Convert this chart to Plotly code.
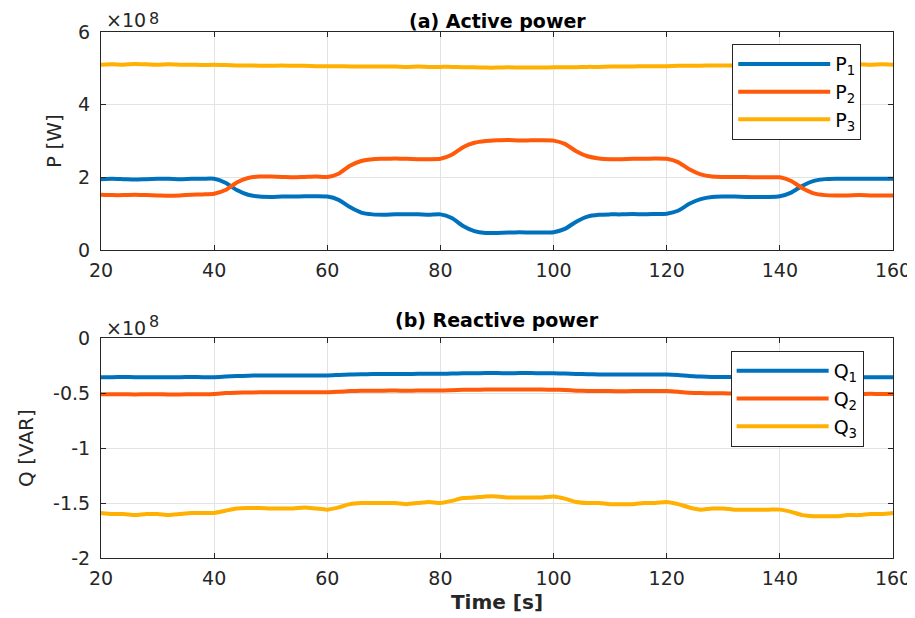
import plotly.graph_objects as go

# time axis [s]
t = list(range(20, 161, 2))

# Active power (x1e8 W)
P1 = [1.95,1.96,1.95,1.94,1.95,1.96,1.96,1.95,1.96,1.96,1.96,
      1.85,1.65,1.52,1.47,
      1.46,1.47,1.47,1.48,1.48,1.47,
      1.38,1.18,1.03,0.98,
      0.97,0.98,0.98,0.98,0.97,0.98,
      0.88,0.66,0.52,0.47,
      0.47,0.48,0.49,0.48,0.48,0.49,
      0.58,0.78,0.92,0.97,
      0.98,0.98,0.99,0.98,0.99,1.00,
      1.08,1.27,1.40,1.46,
      1.47,1.47,1.46,1.46,1.46,1.48,
      1.58,1.77,1.90,1.95,
      1.96,1.96,1.96,1.96,1.96,1.96]
P2 = [1.52,1.51,1.51,1.52,1.51,1.50,1.49,1.50,1.52,1.53,1.55,
      1.65,1.86,1.98,2.02,
      2.02,2.01,2.00,2.01,2.02,2.01,
      2.10,2.32,2.45,2.50,
      2.51,2.52,2.51,2.50,2.50,2.51,
      2.62,2.83,2.95,3.00,
      3.02,3.03,3.01,3.02,3.02,3.01,
      2.92,2.72,2.58,2.52,
      2.50,2.50,2.51,2.51,2.52,2.51,
      2.42,2.22,2.08,2.02,
      2.01,2.01,2.01,2.00,2.00,2.00,
      1.90,1.70,1.56,1.51,
      1.50,1.50,1.51,1.50,1.50,1.50]
P3 = [5.10,5.11,5.10,5.12,5.11,5.10,5.11,5.10,5.10,5.09,5.10,
      5.09,5.08,5.08,5.07,
      5.07,5.08,5.07,5.07,5.06,5.06,
      5.06,5.05,5.05,5.05,
      5.05,5.05,5.04,5.05,5.04,5.04,
      5.04,5.03,5.03,5.02,
      5.02,5.03,5.02,5.02,5.02,5.03,
      5.03,5.03,5.04,5.04,
      5.05,5.05,5.05,5.06,5.06,5.06,
      5.07,5.07,5.07,5.08,
      5.08,5.08,5.09,5.09,5.09,5.10,
      5.10,5.10,5.10,5.10,
      5.11,5.10,5.11,5.10,5.11,5.10]

# Reactive power (x1e8 VAR)
Q1 = [-0.355,-0.355,-0.354,-0.355,-0.355,-0.356,-0.355,-0.355,-0.354,-0.355,-0.355,
      -0.350,-0.345,-0.342,-0.340,
      -0.340,-0.341,-0.340,-0.340,-0.339,-0.340,
      -0.335,-0.330,-0.328,-0.327,
      -0.327,-0.326,-0.326,-0.325,-0.325,-0.325,
      -0.322,-0.320,-0.319,-0.318,
      -0.318,-0.319,-0.318,-0.318,-0.319,-0.320,
      -0.322,-0.326,-0.328,-0.330,
      -0.330,-0.330,-0.331,-0.330,-0.330,-0.330,
      -0.335,-0.345,-0.350,-0.353,
      -0.353,-0.353,-0.354,-0.353,-0.353,-0.354,
      -0.354,-0.355,-0.356,-0.356,
      -0.356,-0.356,-0.355,-0.356,-0.356,-0.356]
Q2 = [-0.510,-0.510,-0.510,-0.512,-0.510,-0.510,-0.513,-0.512,-0.510,-0.510,-0.508,
      -0.500,-0.496,-0.494,-0.493,
      -0.493,-0.492,-0.492,-0.493,-0.492,-0.493,
      -0.488,-0.482,-0.479,-0.478,
      -0.478,-0.477,-0.478,-0.477,-0.476,-0.476,
      -0.473,-0.470,-0.469,-0.468,
      -0.468,-0.467,-0.468,-0.468,-0.468,-0.469,
      -0.472,-0.478,-0.481,-0.482,
      -0.482,-0.483,-0.482,-0.482,-0.481,-0.482,
      -0.488,-0.496,-0.500,-0.502,
      -0.502,-0.503,-0.502,-0.503,-0.503,-0.503,
      -0.505,-0.507,-0.508,-0.508,
      -0.507,-0.508,-0.508,-0.507,-0.508,-0.508]
Q3 = [-1.59,-1.60,-1.60,-1.61,-1.60,-1.60,-1.61,-1.60,-1.59,-1.59,-1.59,
      -1.57,-1.55,-1.545,-1.545,
      -1.55,-1.55,-1.55,-1.54,-1.55,-1.56,
      -1.54,-1.51,-1.50,-1.50,
      -1.50,-1.50,-1.51,-1.50,-1.49,-1.50,
      -1.48,-1.455,-1.45,-1.44,
      -1.44,-1.45,-1.45,-1.45,-1.45,-1.44,
      -1.46,-1.49,-1.50,-1.50,
      -1.51,-1.51,-1.51,-1.50,-1.50,-1.49,
      -1.51,-1.54,-1.56,-1.55,
      -1.55,-1.56,-1.56,-1.56,-1.56,-1.56,
      -1.58,-1.61,-1.62,-1.62,
      -1.62,-1.61,-1.61,-1.60,-1.60,-1.59]

x_ticks = [20, 40, 60, 80, 100, 120, 140, 160]
p_ticks = [0, 2, 4, 6]
p_tick_text = ["0", "2", "4", "6"]
q_ticks = [-2, -1.5, -1, -0.5, 0]
q_tick_text = ["-2", "-1.5", "-1", "-0.5", "0"]

colors = ["#0072BD", "#FF5A0A", "#FFB000"]
FONT = "DejaVu Sans, Arial, sans-serif"
AX = "#262626"

fig = go.Figure()
for name, y, c in zip(["P<sub>1</sub>", "P<sub>2</sub>", "P<sub>3</sub>"], [P1, P2, P3], colors):
    fig.add_trace(go.Scatter(x=t, y=y, name=name, mode="lines",
                             line=dict(color=c, width=4, shape="spline", smoothing=0.6),
                             xaxis="x", yaxis="y", legend="legend"))
for name, y, c in zip(["Q<sub>1</sub>", "Q<sub>2</sub>", "Q<sub>3</sub>"], [Q1, Q2, Q3], colors):
    fig.add_trace(go.Scatter(x=t, y=y, name=name, mode="lines",
                             line=dict(color=c, width=4, shape="spline", smoothing=0.6),
                             xaxis="x2", yaxis="y2", legend="legend2"))

axis_common = dict(showline=True, linecolor=AX, linewidth=1, mirror="ticks",
                   ticks="inside", ticklen=5, tickcolor=AX, tickwidth=1,
                   showgrid=True, gridcolor="#e3e3e3", gridwidth=1, zeroline=False,
                   tickfont=dict(family=FONT, size=19, color=AX))

# page body adds an 8 px offset; margins compensate for it
fig.update_layout(
    width=915, height=618,
    margin=dict(l=93, r=30, t=24, b=68),
    paper_bgcolor="white", plot_bgcolor="white",
    font=dict(family=FONT, color=AX, size=18),
    xaxis=dict(domain=[0, 1], range=[20, 160], tickvals=x_ticks, anchor="y",
               ticklabelstandoff=3, **axis_common),
    yaxis=dict(domain=[0.5856, 1], range=[0, 6], tickvals=p_ticks, ticktext=p_tick_text,
               anchor="x", ticklabelstandoff=6,
               title=dict(text="P [W]", font=dict(size=20, family=FONT, color=AX), standoff=11),
               **axis_common),
    xaxis2=dict(domain=[0, 1], range=[20, 160], tickvals=x_ticks, anchor="y2",
                ticklabelstandoff=3,
                title=dict(text="<b>Time [s]</b>", font=dict(size=20, family=FONT, color=AX), standoff=7),
                **axis_common),
    yaxis2=dict(domain=[0, 0.418], range=[-2, 0], tickvals=q_ticks, ticktext=q_tick_text,
                anchor="x2", ticklabelstandoff=6,
                title=dict(text="Q [VAR]", font=dict(size=20, family=FONT, color=AX), standoff=14),
                **axis_common),
    legend=dict(x=0.797, y=0.977, xanchor="left", yanchor="top",
                bgcolor="white", bordercolor=AX, borderwidth=1,
                font=dict(family=FONT, size=19, color="black"), itemwidth=92),
    legend2=dict(x=0.795, y=0.3935, xanchor="left", yanchor="top",
                 bgcolor="white", bordercolor=AX, borderwidth=1,
                 font=dict(family=FONT, size=19, color="black"), itemwidth=92),
    showlegend=True,
    annotations=[
        dict(text="<b>(a) Active power</b>", x=0.5, y=1.0209, xref="paper", yref="paper",
             yanchor="middle", showarrow=False,
             font=dict(size=19, family=FONT, color="black")),
        dict(text="<b>(b) Reactive power</b>", x=0.5, y=0.4525, xref="paper", yref="paper",
             yanchor="middle", showarrow=False,
             font=dict(size=19, family=FONT, color="black")),
        dict(text="×10", x=0.0038, y=1.0219, xref="paper", yref="paper",
             xanchor="left", yanchor="middle", showarrow=False,
             font=dict(size=19, family=FONT, color=AX)),
        dict(text="8", x=0.058, y=1.0266, xref="paper", yref="paper",
             xanchor="left", yanchor="middle", showarrow=False,
             font=dict(size=16, family=FONT, color=AX)),
        dict(text="×10", x=0.0038, y=0.4382, xref="paper", yref="paper",
             xanchor="left", yanchor="middle", showarrow=False,
             font=dict(size=19, family=FONT, color=AX)),
        dict(text="8", x=0.058, y=0.4496, xref="paper", yref="paper",
             xanchor="left", yanchor="middle", showarrow=False,
             font=dict(size=16, family=FONT, color=AX)),
    ],
)

fig.write_html("out.html")
